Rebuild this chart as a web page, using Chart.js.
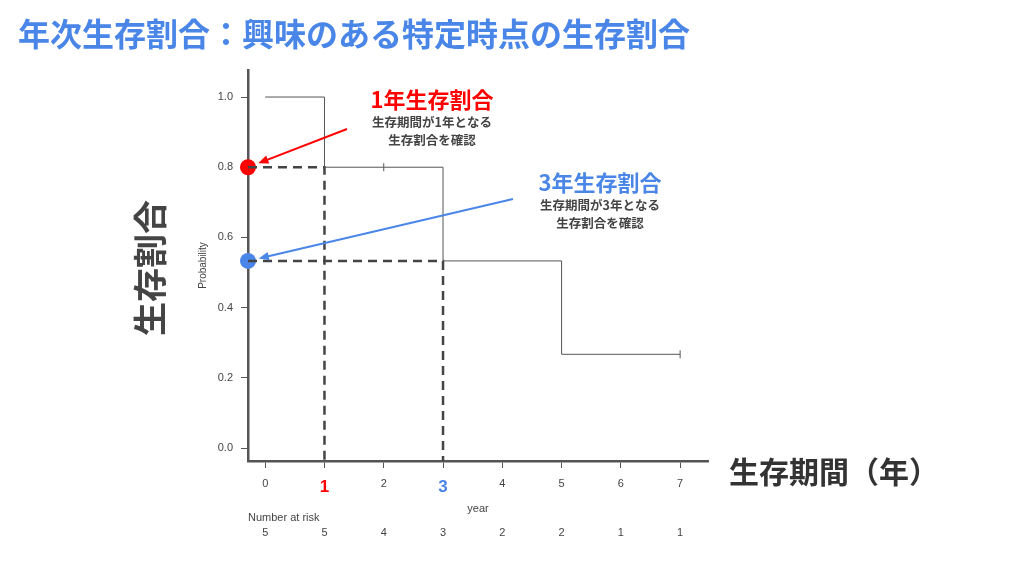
<!DOCTYPE html>
<html>
<head>
<meta charset="utf-8">
<script src="https://cdn.jsdelivr.net/npm/chart.js@4"></script>
<style>
  html, body { margin: 0; padding: 0; background: #fff; }
  #wrap { width: 1024px; height: 576px; position: relative; }
</style>
</head>
<body>
<div id="wrap"><canvas id="km" width="1024" height="576"></canvas></div>
<script>
// data
const years = [0, 1, 2, 3, 4, 5, 6, 7];
const atRisk = [5, 5, 4, 3, 2, 2, 1, 1];
const yTicks = [0.0, 0.2, 0.4, 0.6, 0.8, 1.0];
const stepTimes = [0, 1, 3, 5, 7];
const stepSurv = [1.0, 0.8, 0.533, 0.267, 0.267];
const censorTimes = [2, 7];
const censorSurv = [0.8, 0.267];
const markYears = [1, 3];
const markSurv = [0.8, 0.533];
const markColors = ['#ff0000', '#4a86e8'];

const xMin = -0.29, xMax = 7.47;
const yMin = -0.037, yMax = 1.077;

const JP = "'Noto Sans CJK JP', 'Noto Sans', sans-serif";
const GRAY = '#444';

Chart.defaults.font.family = "'Liberation Sans', Arial, sans-serif";

// dashed guide lines: from y axis across to the year, then down to the x axis
const guideSets = markYears.map((t, i) => ({
    type: 'line',
    data: [{x: xMin, y: markSurv[i]}, {x: t, y: markSurv[i]}, {x: t, y: yMin}],
    borderColor: GRAY,
    borderWidth: 2.5,
    borderDash: [9, 6],
    pointRadius: 0,
    fill: false,
    clip: false
}));

const markDots = markYears.map((t, i) => ({
    type: 'scatter',
    data: [{x: xMin, y: markSurv[i]}],
    pointRadius: 8,
    pointBackgroundColor: markColors[i],
    pointBorderColor: markColors[i],
    borderWidth: 0,
    clip: false
}));

function arrow(ctx, x0, y0, x1, y1, color) {
    const ang = Math.atan2(y1 - y0, x1 - x0);
    const head = 11;
    ctx.save();
    ctx.strokeStyle = color;
    ctx.fillStyle = color;
    ctx.lineWidth = 2;
    ctx.beginPath();
    ctx.moveTo(x0, y0);
    ctx.lineTo(x1 - Math.cos(ang) * head * 0.8, y1 - Math.sin(ang) * head * 0.8);
    ctx.stroke();
    ctx.beginPath();
    ctx.moveTo(x1, y1);
    ctx.lineTo(x1 - head * Math.cos(ang - 0.4), y1 - head * Math.sin(ang - 0.4));
    ctx.lineTo(x1 - head * Math.cos(ang + 0.4), y1 - head * Math.sin(ang + 0.4));
    ctx.closePath();
    ctx.fill();
    ctx.restore();
}

const decorations = {
    id: 'decorations',
    afterDraw(chart) {
        const ctx = chart.ctx;
        const xs = chart.scales.x, ys = chart.scales.y;
        ctx.save();

        // title
        ctx.fillStyle = '#4a86e8';
        ctx.font = 'bold 32px ' + JP;
        ctx.textAlign = 'left';
        ctx.textBaseline = 'middle';
        ctx.fillText('年次生存割合：興味のある特定時点の生存割合', 18, 34);

        // big y label
        ctx.save();
        ctx.translate(150, 268);
        ctx.rotate(-Math.PI / 2);
        ctx.fillStyle = GRAY;
        ctx.font = 'bold 34px ' + JP;
        ctx.textAlign = 'center';
        ctx.fillText('生存割合', 0, 0);
        ctx.restore();

        // big x label
        ctx.fillStyle = '#333';
        ctx.font = 'bold 30px ' + JP;
        ctx.textAlign = 'left';
        ctx.fillText('生存期間（年）', 729, 472);

        // number at risk
        ctx.fillStyle = GRAY;
        ctx.font = '11px ' + Chart.defaults.font.family;
        ctx.textAlign = 'left';
        ctx.fillText('Number at risk', 248, 518);
        ctx.textAlign = 'center';
        years.forEach((t, i) => ctx.fillText(String(atRisk[i]), xs.getPixelForValue(t), 533));

        // annotations
        const notes = [
            {x: 432, y: 100, head: '1年生存割合', sub: ['生存期間が1年となる', '生存割合を確認'], from: [347, 129]},
            {x: 600, y: 183, head: '3年生存割合', sub: ['生存期間が3年となる', '生存割合を確認'], from: [513, 199]}
        ];
        notes.forEach((n, i) => {
            ctx.textAlign = 'center';
            ctx.fillStyle = markColors[i];
            ctx.font = 'bold 22px ' + JP;
            ctx.fillText(n.head, n.x, n.y);
            ctx.fillStyle = GRAY;
            ctx.font = 'bold 12.5px ' + JP;
            ctx.fillText(n.sub[0], n.x, n.y + 22);
            ctx.fillText(n.sub[1], n.x, n.y + 40);

            const px = xs.getPixelForValue(xMin), py = ys.getPixelForValue(markSurv[i]);
            const dx = n.from[0] - px, dy = n.from[1] - py;
            const d = Math.hypot(dx, dy);
            arrow(ctx, n.from[0], n.from[1], px + dx / d * 11, py + dy / d * 11, markColors[i]);
        });
        ctx.restore();
    }
};

new Chart(document.getElementById('km'), {
    type: 'line',
    data: {
        datasets: [
            {
                data: stepTimes.map((t, i) => ({x: t, y: stepSurv[i]})),
                stepped: 'before',
                borderColor: '#555',
                borderWidth: 1,
                pointRadius: 0,
                fill: false
            },
            {
                type: 'scatter',
                data: censorTimes.map((t, i) => ({x: t, y: censorSurv[i]})),
                pointStyle: 'line',
                rotation: 90,
                pointRadius: 4,
                borderColor: '#555',
                borderWidth: 1
            },
            ...guideSets,
            ...markDots
        ]
    },
    options: {
        responsive: false,
        animation: false,
        devicePixelRatio: 1,
        layout: { padding: { left: 195, right: 316, top: 70, bottom: 58 } },
        plugins: { legend: { display: false }, tooltip: { enabled: false } },
        scales: {
            x: {
                type: 'linear',
                min: xMin,
                max: xMax,
                afterBuildTicks: s => { s.ticks = years.map(v => ({value: v})); },
                afterFit: s => { s.height = 57; },
                grid: { drawOnChartArea: false, drawTicks: true, tickLength: 7, color: '#555', lineWidth: 1 },
                border: { color: '#555', width: 2.5 },
                ticks: {
                    padding: 9,
                    callback: v => String(v),
                    font: c => markYears.includes(c.tick && c.tick.value)
                        ? {size: 17, weight: 'bold'} : {size: 11},
                    color: c => {
                        const k = markYears.indexOf(c.tick && c.tick.value);
                        return k >= 0 ? markColors[k] : GRAY;
                    }
                },
                title: { display: true, text: 'year', color: GRAY, font: {size: 11}, padding: {top: 2, bottom: 2} }
            },
            y: {
                type: 'linear',
                min: yMin,
                max: yMax,
                afterBuildTicks: s => { s.ticks = yTicks.map(v => ({value: v})); },
                afterFit: s => { s.width = 53; },
                grid: { drawOnChartArea: false, drawTicks: true, tickLength: 7, color: '#555', lineWidth: 1 },
                border: { color: '#555', width: 2.5 },
                ticks: { padding: 8, color: GRAY, font: {size: 11}, callback: v => v.toFixed(1) },
                title: { display: true, text: 'Probability', color: GRAY, font: {size: 10}, padding: {top: 2, bottom: 2} }
            }
        }
    },
    plugins: [decorations]
});
</script>
</body>
</html>
